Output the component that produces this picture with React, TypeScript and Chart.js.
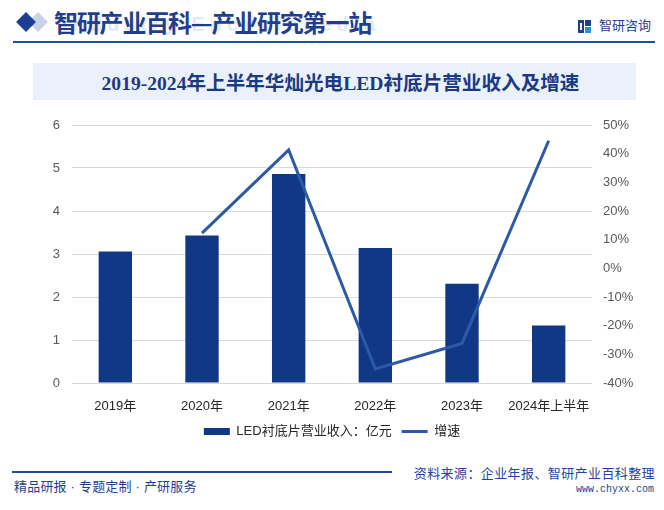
import React, { useEffect, useRef } from "react";
import { Chart, registerables } from "chart.js";

Chart.register(...registerables);

// ---- data ----
const categories = ["2019年", "2020年", "2021年", "2022年", "2023年", "2024年上半年"];
const revenue = [3.06, 3.43, 4.86, 3.14, 2.31, 1.34]; // 亿元
const growth = [null, 12.3, 41.3, -35.1, -26.2, 44.5]; // %
const revenueLabel = "LED衬底片营业收入：亿元";
const growthLabel = "增速";
const leftAxis = { min: 0, max: 6, step: 1 };
const rightAxis = { min: -40, max: 50, step: 10 };

const titleText = "2019-2024年上半年华灿光电LED衬底片营业收入及增速";
const headerText = "智研产业百科—产业研究第一站";
const footerLeft = "精品研报 · 专题定制 · 产研服务";
const footerSource = "资料来源：企业年报、智研产业百科整理";
const footerUrl = "www.chyxx.com";

const BAR_COLOR = "#103884";
const LINE_COLOR = "#2d5aa5";
const NAVY = "#1f3f8c";
const SANS = '"Liberation Sans", "Noto Sans CJK SC", sans-serif';
const CJK = '"Noto Sans CJK SC", "Liberation Sans", sans-serif';

export default function App() {
  const canvasRef = useRef<HTMLCanvasElement | null>(null);

  useEffect(() => {
    if (!canvasRef.current) return;
    const chart = new Chart(canvasRef.current, {
      type: "bar",
      data: {
        labels: categories,
        datasets: [
          {
            type: "line",
            label: growthLabel,
            data: growth,
            yAxisID: "y1",
            borderColor: LINE_COLOR,
            backgroundColor: LINE_COLOR,
            borderWidth: 3,
            pointRadius: 0,
            tension: 0,
            order: 0,
          } as any,
          {
            type: "bar",
            label: revenueLabel,
            data: revenue,
            yAxisID: "y",
            backgroundColor: BAR_COLOR,
            borderWidth: 0,
            categoryPercentage: 1,
            barPercentage: 0.385,
            order: 1,
          } as any,
        ],
      },
      options: {
        animation: false,
        responsive: false,
        layout: { padding: { top: 20, left: 0, right: 0, bottom: 0 } },
        plugins: {
          tooltip: { enabled: false },
          legend: {
            position: "bottom",
            labels: {
              usePointStyle: true,
              pointStyleWidth: 26,
              boxHeight: 7,
              padding: 10,
              color: "#262626",
              font: { size: 13, family: SANS },
              generateLabels: () => [
                {
                  text: revenueLabel,
                  fillStyle: BAR_COLOR,
                  strokeStyle: BAR_COLOR,
                  lineWidth: 0,
                  pointStyle: "rect",
                  hidden: false,
                  datasetIndex: 1,
                  fontColor: "#262626",
                },
                {
                  text: growthLabel,
                  fillStyle: LINE_COLOR,
                  strokeStyle: LINE_COLOR,
                  lineWidth: 3,
                  pointStyle: "line",
                  hidden: false,
                  datasetIndex: 0,
                  fontColor: "#262626",
                },
              ],
            },
          },
        },
        scales: {
          x: {
            grid: { display: false },
            border: { display: false },
            ticks: {
              color: "#262626",
              font: { size: 13, family: SANS },
              padding: 8,
              maxRotation: 0,
              autoSkip: false,
            },
            afterFit: (s: any) => {
              s.height = 32;
            },
          },
          y: {
            position: "left",
            min: leftAxis.min,
            max: leftAxis.max,
            ticks: {
              stepSize: leftAxis.step,
              color: "#595959",
              font: { size: 13, family: SANS },
              padding: 12,
            },
            grid: { color: "#d9d9d9", drawTicks: false },
            border: { display: false },
            afterFit: (s: any) => {
              s.width = 72;
            },
          },
          y1: {
            position: "right",
            min: rightAxis.min,
            max: rightAxis.max,
            ticks: {
              stepSize: rightAxis.step,
              color: "#595959",
              font: { size: 13, family: SANS },
              padding: 11,
              callback: (v: any) => `${v}%`,
            },
            grid: { drawOnChartArea: false, drawTicks: false },
            border: { display: false },
            afterFit: (s: any) => {
              s.width = 72;
            },
          },
        },
      } as any,
    });
    return () => chart.destroy();
  }, []);

  return (
    <div
      style={{
        position: "absolute",
        left: 0,
        top: 0,
        width: 664,
        height: 510,
        background: "#fff",
        overflow: "hidden",
        fontFamily: SANS,
      }}
    >
      {/* header diamonds */}
      <div style={{ position: "absolute", left: 31, top: 15, width: 14, height: 14, background: "#c9d3e8", transform: "rotate(45deg)" }} />
      <div style={{ position: "absolute", left: 18.5, top: 14.7, width: 14, height: 14, background: "#1a3f94", transform: "rotate(45deg)" }} />
      {/* faint english behind header */}
      <div
        style={{
          position: "absolute",
          left: 62,
          top: 12,
          fontFamily: SANS,
          fontWeight: 700,
          fontSize: 20,
          letterSpacing: 5,
          color: "#e4eaf4",
          whiteSpace: "nowrap",
          lineHeight: "24px",
        }}
      >
        Industry Encyclopedia
      </div>
      <div
        style={{
          position: "absolute",
          left: 54,
          top: 9,
          fontFamily: CJK,
          fontWeight: 700,
          fontSize: 24,
          letterSpacing: -1.2,
          lineHeight: "26px",
          color: NAVY,
          whiteSpace: "nowrap",
        }}
      >
        {headerText}
      </div>
      {/* logo */}
      <div style={{ position: "absolute", left: 578, top: 20, width: 13, height: 13 }}>
        <div style={{ position: "absolute", left: 0, top: 0, width: 6, height: 13, background: "#1f3f8c" }} />
        <div style={{ position: "absolute", left: 7, top: 0, width: 6, height: 6, background: "#1f3f8c" }} />
        <div style={{ position: "absolute", left: 7, top: 7, width: 6, height: 6, background: "#2e8fd8" }} />
        <div style={{ position: "absolute", left: 2, top: 3, width: 2, height: 7, background: "#fff" }} />
      </div>
      <div
        style={{
          position: "absolute",
          left: 599,
          top: 17,
          fontFamily: CJK,
          fontSize: 13,
          lineHeight: "16px",
          color: NAVY,
          whiteSpace: "nowrap",
        }}
      >
        智研咨询
      </div>
      {/* header line */}
      <div style={{ position: "absolute", left: 13, top: 41, width: 642, height: 2, background: "#1e4ea0" }} />
      {/* title box */}
      <div
        style={{
          position: "absolute",
          left: 33,
          top: 63,
          width: 603,
          height: 37,
          background: "#eaf1fb",
          display: "flex",
          alignItems: "center",
          justifyContent: "center",
        }}
      >
        <span
          style={{
            fontFamily: '"Liberation Serif", "Noto Sans CJK SC", serif',
            fontWeight: 700,
            fontSize: 19.6,
            color: "#1b3a82",
            whiteSpace: "nowrap",
            marginLeft: 12,
          }}
        >
          {titleText}
        </span>
      </div>
      {/* chart */}
      <canvas
        ref={canvasRef}
        width={664}
        height={343}
        style={{ position: "absolute", left: 0, top: 105, width: 664, height: 343 }}
      />
      {/* footer */}
      <div style={{ position: "absolute", left: 12, top: 471, width: 380, height: 2, background: "#1e4ea0" }} />
      <div
        style={{
          position: "absolute",
          left: 14,
          top: 479,
          fontFamily: SANS,
          fontSize: 13,
          lineHeight: "16px",
          letterSpacing: 0.2,
          color: NAVY,
          whiteSpace: "nowrap",
        }}
      >
        {footerLeft}
      </div>
      <div
        style={{
          position: "absolute",
          right: 9,
          top: 465,
          fontFamily: CJK,
          fontSize: 13,
          lineHeight: "16px",
          letterSpacing: 0.4,
          color: "#2444a0",
          whiteSpace: "nowrap",
        }}
      >
        {footerSource}
      </div>
      <div
        style={{
          position: "absolute",
          right: 10,
          top: 484,
          fontFamily: '"Liberation Mono", monospace',
          fontSize: 10,
          lineHeight: "12px",
          color: NAVY,
          whiteSpace: "nowrap",
        }}
      >
        {footerUrl}
      </div>
    </div>
  );
}
